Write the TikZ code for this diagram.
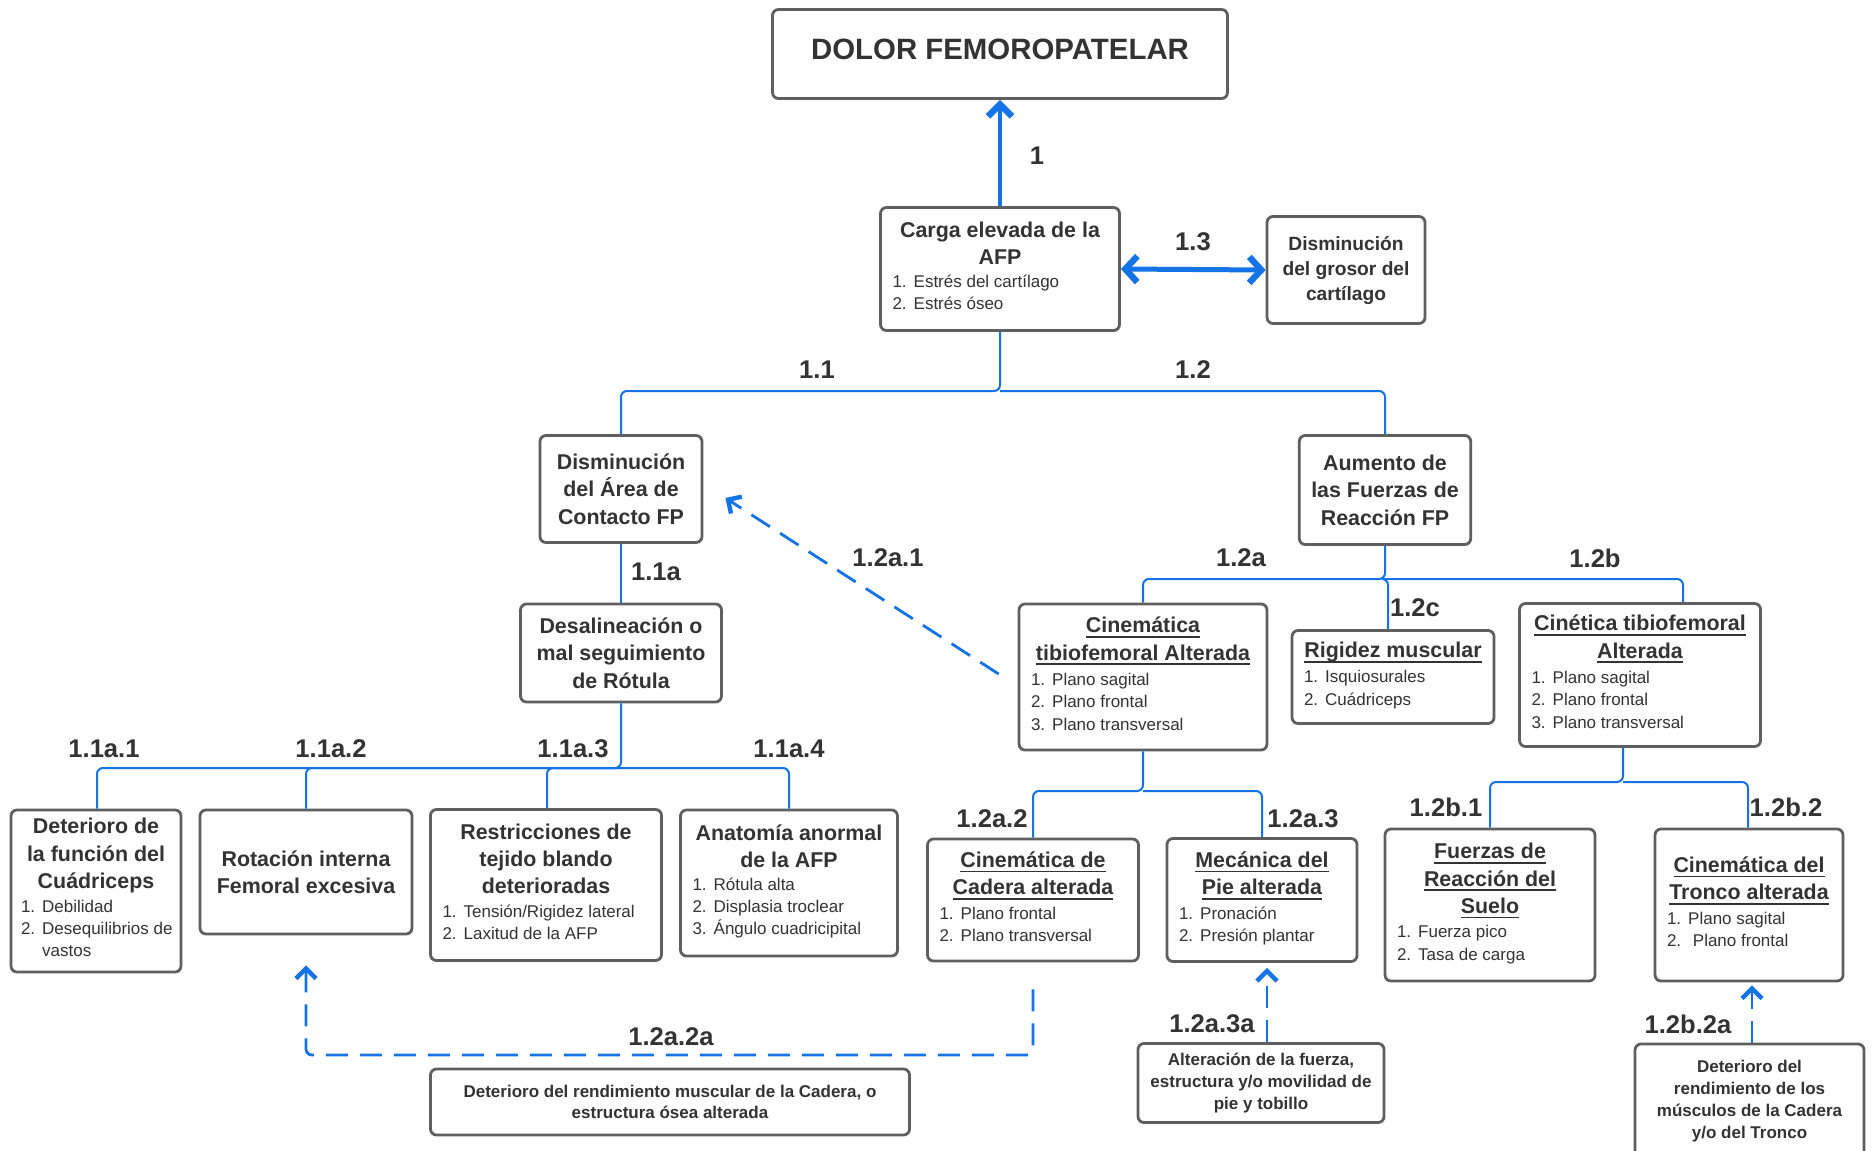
\documentclass[tikz,border=0pt]{standalone}
\usepackage{fontspec}
\setmainfont{Liberation Sans}
\usetikzlibrary{arrows.meta, calc}
\definecolor{cazul}{HTML}{1473E6}
\definecolor{cborde}{HTML}{5F5F5F}
\definecolor{ctexto}{HTML}{333333}
% underlined heading line, rule at a fixed depth
\newcommand\subr[1]{\setbox0\hbox{#1}\rlap{\vrule height -1.6pt depth 2.5pt width \wd0}\box0}
% numbered list, left aligned inside a box of width #1
\newcommand\lista[2]{\makebox[#1][l]{\mdseries\fontsize{8.5}{11.2}\selectfont\begin{tabular}[t]{@{}l@{\hspace{3.5pt}}l@{}}#2\end{tabular}}}
\tikzset{
  caja/.style 2 args={draw=cborde, line width=1.4pt, rounded corners=3pt, fill=white, align=center, text=ctexto,
    inner xsep=6pt, inner ysep=3pt, minimum width=#1pt, minimum height=#2pt, font=\fontsize{10.7}{13.7}\selectfont\bfseries},
  nota/.style={font=\fontsize{8.5}{10.9}\selectfont\bfseries},
  etiq/.style={text=ctexto, inner sep=0pt, font=\fontsize{12.8}{14}\selectfont\bfseries},
  rama/.style={draw=cazul, line width=1pt, rounded corners=3pt},
  gruesa/.style={draw=cazul, line width=2.3pt, -{Straight Barb[length=6pt, width=12pt, line width=3.2pt]}},
  doble/.style={draw=cazul, line width=2.5pt, {Straight Barb[length=6pt, width=13pt, line width=3.2pt]}-{Straight Barb[length=6pt, width=13pt, line width=3.2pt]}},
  punteada/.style={draw=cazul, line width=1.4pt, dash pattern=on 11pt off 6pt, rounded corners=3pt,
    -{Straight Barb[length=5pt, width=10pt, line width=2.2pt]}},
}
\begin{document}
\begin{tikzpicture}[x=0.5pt, y=-0.5pt]
  \fill[white] (0,0) rectangle (1871,1150);
  \useasboundingbox (0,0) rectangle (1871,1150);

  % top
  \node[caja={227.5}{44.5}, font=\fontsize{14.7}{17}\selectfont\bfseries, text depth=5pt] (dolor) at (1000,54) {DOLOR FEMOROPATELAR};
  \node[caja={119.5}{61.5}] (carga) at (1000,269) {Carga elevada de la\\AFP\\[-2.4pt]\lista{107.5pt}{1.&Estrés del cartílago\\2.&Estrés óseo}};
  \node[caja={79}{53.5}, font=\fontsize{9.6}{12.5}\selectfont\bfseries] (grosor) at (1346,270) {Disminución\\del grosor del\\cartílago};

  % second level
  \node[caja={81}{53.5}] (area) at (621,489) {Disminución\\del Área de\\Contacto FP};
  \node[caja={85.5}{54.5}] (aumento) at (1385,490) {Aumento de\\las Fuerzas de\\Reacción FP};
  \node[caja={100.5}{49}] (desal) at (621,653) {Desalineación o\\mal seguimiento\\de Rótula};

  % 1.1a row
  \node[caja={85}{81}, inner xsep=5pt] (cuad) at (96,891) {Deterioro de\\la función del\\Cuádriceps\\[-2pt]\lista{75pt}{1.&Debilidad\\2.&Desequilibrios de\\&vastos}};
  \node[caja={106}{62}] (rotac) at (306,872) {Rotación interna\\Femoral excesiva};
  \node[caja={115.5}{75.5}] (restr) at (546,885) {Restricciones de\\tejido blando\\deterioradas\\[-2pt]\lista{103.5pt}{1.&Tensión/Rigidez lateral\\2.&Laxitud de la AFP}};
  \node[caja={108.5}{73}] (anat) at (789,883) {Anatomía anormal\\de la AFP\\[-2.4pt]\lista{96.5pt}{1.&Rótula alta\\2.&Displasia troclear\\3.&Ángulo cuadricipital}};

  % 1.2 row
  \node[caja={124}{73}] (cintib) at (1143,677) {\subr{Cinemática}\\\subr{tibiofemoral Alterada}\\[-1pt]\lista{112pt}{1.&Plano sagital\\2.&Plano frontal\\3.&Plano transversal}};
  \node[caja={101}{46.5}] (rigidez) at (1393,677) {\subr{Rigidez muscular}\\[-1pt]\lista{89pt}{1.&Isquiosurales\\2.&Cuádriceps}};
  \node[caja={120.5}{71.5}] (cinetica) at (1640,675) {\subr{Cinética tibiofemoral}\\\subr{Alterada}\\[-1pt]\lista{108.5pt}{1.&Plano sagital\\2.&Plano frontal\\3.&Plano transversal}};

  % lower row
  \node[caja={105.5}{61}] (cadera) at (1033,900) {\subr{Cinemática de}\\\subr{Cadera alterada}\\[-1.5pt]\lista{93.5pt}{1.&Plano frontal\\2.&Plano transversal}};
  \node[caja={95}{61.5}] (pie) at (1262,900) {\subr{Mecánica del}\\\subr{Pie alterada}\\[-1.5pt]\lista{83pt}{1.&Pronación\\2.&Presión plantar}};
  \node[caja={105}{76}] (fuerzas) at (1490,905) {\subr{Fuerzas de}\\\subr{Reacción del}\\\subr{Suelo}\\[-1.5pt]\lista{93pt}{1.&Fuerza pico\\2.&Tasa de carga}};
  \node[caja={94}{76}] (tronco) at (1749,905) {\subr{Cinemática del}\\\subr{Tronco alterada}\\[-1.5pt]\lista{82pt}{1.&Plano sagital\\2.&\ Plano frontal}};

  % explanatory boxes
  \node[caja={239.5}{33}, nota] (explcad) at (670,1102) {Deterioro del rendimiento muscular de la Cadera, o\\estructura ósea alterada};
  \node[caja={123}{39.5}, nota] (explpie) at (1261,1083) {Alteración de la fuerza,\\estructura y/o movilidad de\\pie y tobillo};
  \node[caja={114.5}{57}, nota] (expltron) at (1749.5,1101) {Deterioro del\\rendimiento de los\\músculos de la Cadera\\y/o del Tronco};

  % connectors
  \draw[gruesa] (carga) -- (dolor);
  \draw[doble] (carga.east) -- (grosor.west);

  \coordinate (r1) at (1000,391);
  \draw[rama] (carga.south) -- (r1) -| (area.north);
  \draw[rama] (r1) -| (aumento.north);
  \draw[rama] (area.south) -- (desal.north);

  \coordinate (r3) at (621,768);
  \draw[rama] (desal.south) -- (r3) -| ([xshift=0.5pt]cuad.north);
  \draw[rama] (r3) -| (rotac.north);
  \draw[rama] (r3) -| ([xshift=0.5pt]restr.north);
  \draw[rama] (r3) -| (anat.north);

  \coordinate (r4) at (1385,579);
  \draw[rama] (aumento.south) -- (r4) -| (cintib.north);
  \draw[rama] (r4) -| ([xshift=-2.5pt]rigidez.north);
  \draw[rama] (r4) -| ([xshift=21.5pt]cinetica.north);

  \coordinate (r5) at (1143,791);
  \draw[rama] (cintib.south) -- (r5) -| (cadera.north);
  \draw[rama] (r5) -| (pie.north);

  \coordinate (r6) at (1623,782);
  \draw[rama] ([xshift=-8.5pt]cinetica.south) -- (r6) -| (fuerzas.north);
  \draw[rama] (r6) -| ([xshift=-0.5pt]tronco.north);

  % dashed influences
  \draw[punteada] ([xshift=-9.5pt,yshift=1.5pt]cintib.west) -- ([xshift=11pt,yshift=-4.5pt]area.east);
  \coordinate (d1) at (1033,1055);
  \coordinate (d2) at (306,1055);
  \draw[punteada] ([yshift=-13.5pt]cadera.south) -- (d1) -- (d2) -- ([yshift=-15pt]rotac.south);
  \draw[punteada] ([xshift=3pt]explpie.north) -- ([xshift=2.5pt,yshift=-2.5pt]pie.south);
  \draw[punteada] ([xshift=1.25pt]expltron.north) -- ([xshift=1.5pt,yshift=-1.5pt]tronco.south);

  % labels
  \node[etiq] (l1) at (1037,156) {1};
  \node[etiq] (l13) at (1193,242) {1.3};
  \node[etiq] (l11) at (817,370) {1.1};
  \node[etiq] (l12) at (1193,370) {1.2};
  \node[etiq] (l11a) at (656,572) {1.1a};
  \node[etiq] (l11a1) at (104,749) {1.1a.1};
  \node[etiq] (l11a2) at (331,749) {1.1a.2};
  \node[etiq] (l11a3) at (573,749) {1.1a.3};
  \node[etiq] (l11a4) at (789,749) {1.1a.4};
  \node[etiq] (l12a) at (1241,558) {1.2a};
  \node[etiq] (l12b) at (1595,558) {1.2b};
  \node[etiq] (l12c) at (1415,608) {1.2c};
  \node[etiq] (l12a1) at (888,558) {1.2a.1};
  \node[etiq] (l12a2) at (992,819) {1.2a.2};
  \node[etiq] (l12a3) at (1303,819) {1.2a.3};
  \node[etiq] (l12b1) at (1446,807) {1.2b.1};
  \node[etiq] (l12b2) at (1786,807) {1.2b.2};
  \node[etiq] (l12a2a) at (671,1037) {1.2a.2a};
  \node[etiq] (l12a3a) at (1212,1024) {1.2a.3a};
  \node[etiq] (l12b2a) at (1688,1024) {1.2b.2a};
\end{tikzpicture}
\end{document}
